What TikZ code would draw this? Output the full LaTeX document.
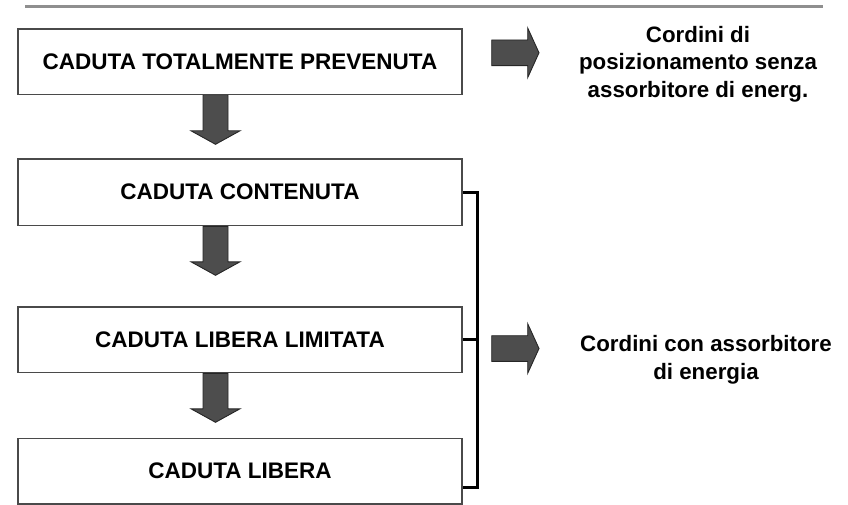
\documentclass[tikz,border=0pt]{standalone}
\usepackage{fontspec}
\setmainfont{Liberation Sans}
\usetikzlibrary{calc}
\definecolor{boxgray}{HTML}{4A4A4A}
\definecolor{arrowfill}{HTML}{4D4D4D}
\definecolor{rulegray}{HTML}{8F8F8F}
\begin{document}
\begin{tikzpicture}[x=1pt,y=-1pt,
  box/.style={draw=boxgray, line width=1.6pt, fill=white, minimum width=444pt,
    minimum height=65.5pt, inner sep=0pt, font=\fontsize{22.5}{27}\selectfont\bfseries},
  blockarrow/.style={fill=arrowfill, draw=black!85, line width=0.9pt, line join=miter},
  bracket/.style={draw=black, line width=2.8pt, line join=miter},
  lbl/.style={font=\fontsize{22.3}{27.5}\selectfont\bfseries, align=center, inner sep=0pt, anchor=base},
  toprule/.style={draw=rulegray, line width=3pt}
]
\useasboundingbox (0,0) rectangle (848,505);

% top rule
\coordinate (r1) at (25,7);
\coordinate (r2) at (823,7);
\draw[toprule] (r1) -- (r2);

% boxes
\node[box] (b1) at (240,61.75) {CADUTA TOTALMENTE PREVENUTA};
\node[box, minimum height=66.5pt] (b2) at (240,192.25) {CADUTA CONTENUTA};
\node[box] (b3) at (240,339.75) {CADUTA LIBERA LIMITATA};
\node[box] (b4) at (240,471.25) {CADUTA LIBERA};

% down block arrows
\foreach \s in {b1,b2,b3}{
  \draw[blockarrow] ($(\s.south)+(-37,0)$) -- ++(25,0) -- ++(0,35.5) -- ++(12,0)
     -- ++(-24.5,13.5) -- ++(-24.5,-13.5) -- ++(12,0) -- cycle;
}

% right block arrows
\coordinate (ra1) at (491.7,52.8);
\coordinate (ra2) at (491.7,348.5);
\foreach \c in {ra1,ra2}{
  \draw[blockarrow] ($(\c)+(0,-12.8)$) -- ++(36,0) -- ++(0,-12) -- ++(11.3,24.8)
     -- ++(-11.3,24.8) -- ++(0,-12) -- ++(-36,0) -- cycle;
}

% bracket
\coordinate (bb) at ($(b4.east)+(0,16.5)$);
\coordinate (bt) at ($(b2.east)+(14.5,0)$);
\draw[bracket] (b2.east) -- (bt) -- (bt |- bb) -- (bb);
\draw[bracket] (b3.east) -- (b3.east -| bt);

% labels (base = baseline of the last line)
\node[lbl] (t1) at (698,97.5) {Cordini di\\posizionamento senza\\assorbitore di energ.};
\node[lbl] (t2) at (706,379) {Cordini con assorbitore\\di energia};
\end{tikzpicture}
\end{document}
